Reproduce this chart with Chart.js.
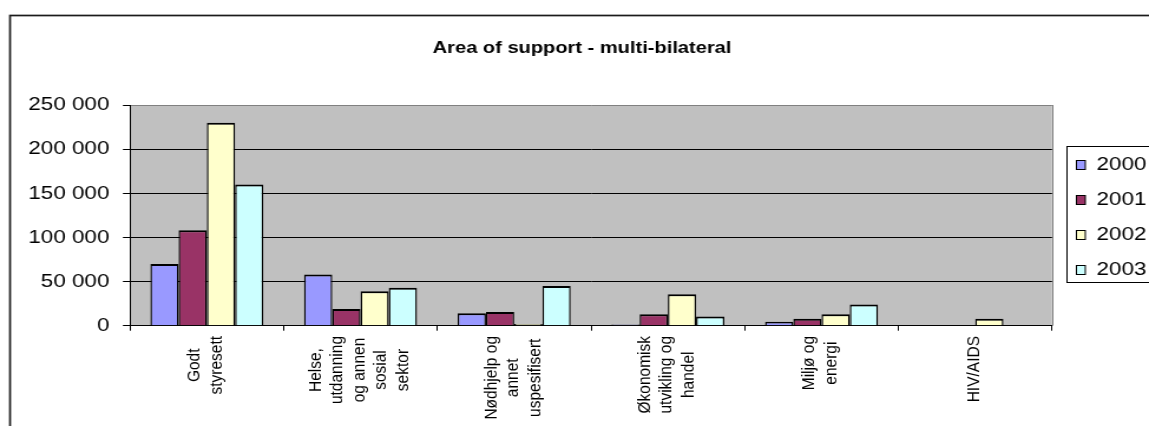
<!DOCTYPE html>
<html>
<head>
<meta charset="utf-8">
<title>Area of support - multi-bilateral</title>
<script src="https://cdn.jsdelivr.net/npm/chart.js@4.4.1/dist/chart.umd.min.js"></script>
<style>
    html, body { margin: 0; padding: 0; background: #fff; overflow: hidden; }
</style>
</head>
<body>
<!-- drawn at 974 wide and stretched to 1149 so the text keeps its wide look -->
<canvas id="supportChart" width="974" height="426" style="width:1149px;height:426px"></canvas>
<script>
const chartTitle = 'Area of support - multi-bilateral';
const areas = [
    ['Godt', 'styresett'],
    ['Helse,', 'utdanning', 'og annen', 'sosial', 'sektor'],
    ['Nødhjelp og', 'annet', 'uspesifisert'],
    ['Økonomisk', 'utvikling og', 'handel'],
    ['Miljø og', 'energi'],
    ['HIV/AIDS']
];
const years = ['2000', '2001', '2002', '2003'];
const values2000 = [70000, 58000, 14000, 1500, 4500, 0];
const values2001 = [108000, 19000, 15500, 13000, 8000, 0];
const values2002 = [230000, 39000, 2000, 35500, 13000, 8000];
const values2003 = [160000, 43000, 45000, 10500, 24000, 0];
const yTicks = [0, 50000, 100000, 150000, 200000, 250000];
const yearColors = ['#9999FF', '#993366', '#FFFFCC', '#CCFFFF'];

const FONT = '"Liberation Sans", Arial, Helvetica, sans-serif';

function formatThousands(v) {
    return String(v).replace(/\B(?=(\d{3})+(?!\d))/g, ' ');
}

// grey plot area, its right edge and the outer frame
const plotBackground = {
    id: 'plotBackground',
    beforeDraw(chart) {
        const {ctx, chartArea: a} = chart;
        ctx.save();
        ctx.fillStyle = '#C0C0C0';
        ctx.fillRect(a.left, a.top, a.right - a.left, a.bottom - a.top);
        ctx.strokeStyle = '#808080';
        ctx.lineWidth = 1;
        ctx.beginPath();
        ctx.moveTo(Math.round(a.right) + 0.5, a.top);
        ctx.lineTo(Math.round(a.right) + 0.5, a.bottom);
        ctx.stroke();
        ctx.strokeStyle = '#1a1a1a';
        ctx.lineWidth = 1.7;
        ctx.strokeRect(8.5, 15.5, chart.width + 20, chart.height + 20);
        ctx.restore();
    }
};

// title, rotated multi-line category labels and the boxed legend
const chartText = {
    id: 'chartText',
    afterDraw(chart) {
        const {ctx} = chart;
        const x = chart.scales.x;
        ctx.save();

        ctx.fillStyle = '#000';
        ctx.font = 'bold 17px ' + FONT;
        ctx.textAlign = 'center';
        ctx.textBaseline = 'alphabetic';
        ctx.fillText(chartTitle, 493.4, 52.5);

        ctx.font = '15.5px ' + FONT;
        ctx.textBaseline = 'middle';
        const lineGap = 18.6;
        const top = x.top + 10.3;
        areas.forEach((lines, i) => {
            const cx = x.getPixelForValue(i) - 1;
            const longest = Math.max(...lines.map(l => ctx.measureText(l).width));
            const cy = top + longest / 2;
            lines.forEach((line, j) => {
                ctx.save();
                ctx.translate(cx + (j - (lines.length - 1) / 2) * lineGap, cy);
                ctx.rotate(-Math.PI / 2);
                ctx.fillText(line, 0, 0);
                ctx.restore();
            });
        });

        const boxLeft = 904.5, boxTop = 146.5, boxBottom = 282.5;
        ctx.fillStyle = '#fff';
        ctx.fillRect(boxLeft, boxTop, chart.width, boxBottom - boxTop);
        ctx.strokeStyle = '#000';
        ctx.lineWidth = 1;
        ctx.strokeRect(boxLeft, boxTop, chart.width, boxBottom - boxTop);
        ctx.font = '19px ' + FONT;
        ctx.textAlign = 'left';
        chart.data.datasets.forEach((ds, i) => {
            const cy = 165 + i * 35;
            ctx.fillStyle = ds.backgroundColor;
            ctx.fillRect(912.5, cy - 4.5, 7.5, 9);
            ctx.strokeRect(912.5, cy - 4.5, 7.5, 9);
            ctx.fillStyle = '#000';
            ctx.fillText(ds.label, 929.5, cy);
        });
        ctx.restore();
    }
};

const series = [values2000, values2001, values2002, values2003];

new Chart(document.getElementById('supportChart'), {
    type: 'bar',
    data: {
        labels: areas,
        datasets: years.map((year, i) => ({
            label: year,
            data: series[i],
            backgroundColor: yearColors[i],
            borderColor: '#000',
            borderWidth: {top: 2, left: 1.4, right: 1.4, bottom: 0},
            borderSkipped: 'start',
            categoryPercentage: 0.735,
            barPercentage: 1
        }))
    },
    options: {
        responsive: false,
        animation: false,
        devicePixelRatio: 1,
        events: [],
        layout: {
            padding: {left: 0, top: 105, right: 82.2, bottom: 0}
        },
        plugins: {
            legend: {display: false},
            title: {display: false},
            tooltip: {enabled: false}
        },
        scales: {
            x: {
                offset: true,
                grid: {
                    offset: true,
                    drawOnChartArea: false,
                    drawTicks: true,
                    tickLength: 5,
                    color: '#000',
                    tickColor: '#000'
                },
                border: {display: true, color: '#000', width: 1},
                ticks: {display: false},
                afterFit(scale) { scale.height = 100.3; }
            },
            y: {
                min: 0,
                max: 250000,
                afterBuildTicks(scale) {
                    scale.ticks = yTicks.map(v => ({value: v}));
                },
                grid: {
                    color: c => (c.tick && c.tick.value === 250000) ? '#808080' : '#000',
                    tickColor: '#000',
                    tickLength: 6,
                    lineWidth: 1
                },
                border: {display: true, color: '#000', width: 1},
                ticks: {
                    color: '#000',
                    padding: 11.5,
                    font: {family: FONT, size: 19},
                    callback: v => formatThousands(v)
                },
                afterFit(scale) { scale.width = 110.2; }
            }
        }
    },
    plugins: [plotBackground, chartText]
});
</script>
</body>
</html>
